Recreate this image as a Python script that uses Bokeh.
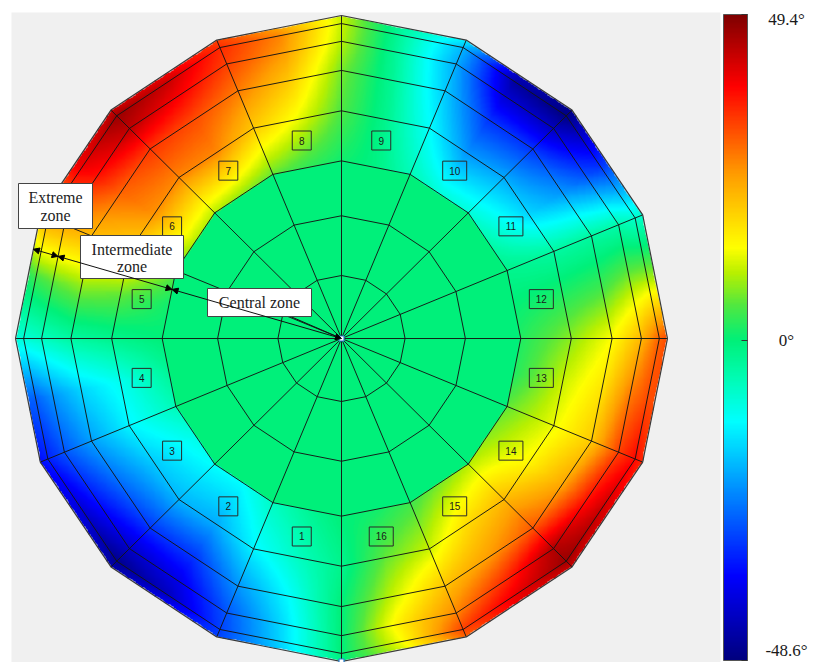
import numpy as np
from bokeh.plotting import figure
from bokeh.models import (LinearColorMapper, ColorBar, FixedTicker, BoxAnnotation,
                          Arrow, NormalHead)
from bokeh.core.properties import value
from bokeh.embed import file_html
from bokeh.resources import INLINE

# ---------------------------------------------------------------- data
# Polar mesh: 16 sectors, ring polygons given as a fraction of the outer radius
ring_radii = [0.195, 0.38, 0.55, 0.705, 0.83, 0.92, 0.975, 1.0]
sector_labels = ["1", "2", "3", "4", "5", "6", "7", "8",
                 "9", "10", "11", "12", "13", "14", "15", "16"]

# Angle of every spoke and sector middle (deg, counter-clockwise from +x)
node_angles = [0, 11.25, 22.5, 33.75, 45, 56.25, 67.5, 78.75,
               90, 101.25, 112.5, 123.75, 135, 146.25, 157.5, 168.75,
               180, 191.25, 202.5, 213.75, 225, 236.25, 247.5, 258.75,
               270, 281.25, 292.5, 303.75, 315, 326.25, 337.5, 348.75]

# Angle (deg) on each ring of the intermediate and extreme zones
ring_r3 = [2, 0, -2, -5, -9, -9, -6, -1, 1, 3, 6, 8, 10, 10, 6, 1,
           0, -3, -6, -10, -12, -12, -7, -3, 0, 1, 4, 7, 10, 8, 6, 2]
ring_r4 = [8, 2, -4, -16, -20, -22, -12, -2, 5, 13, 20, 27, 27, 26, 18, 6,
           -2, -11, -13, -17, -19, -20, -13, -7, -2, 6, 11, 18, 22, 15, 13, 11]
ring_r5 = [14, 4, -4, -22, -31, -31, -17, -3, 7, 20, 28, 32, 34, 30, 22, 8,
           -4, -16, -21, -26, -31, -31, -22, -12, 0, 11, 21, 25, 31, 24, 20, 17]
ring_r6 = [22, 8, -5, -28, -42, -40, -20, -4, 10, 25, 33, 39, 44, 37, 24, 6,
           -7, -22, -28, -34, -41, -38, -28, -15, 0, 16, 27, 35, 45, 37, 33, 28]
ring_r7 = [30, 9, -8, -31, -48, -45, -19, -4, 11, 27, 35, 43, 47, 40, 25, 4,
           -9, -27, -33, -40, -47, -42, -30, -16, 0, 14, 33, 40, 47, 43, 38, 32]
ring_r8 = [32, 9, -8, -30, -47, -42, -14, -4, 11, 24, 33, 40, 43, 40, 22, 2,
           -9, -27, -35, -38, -44, -37, -30, -17, -1, 12, 30, 40, 43, 41, 35, 32]
ring_values = [ring_r3, ring_r4, ring_r5, ring_r6, ring_r7, ring_r8]
central_value = 0.0

scale_low, scale_high = -48.6, 49.4
tick_values = [-48.6, 0, 49.4]
tick_labels = ["-48.6°", "0°", "49.4°"]

# ---------------------------------------------------------------- palette
stops = [(0.00, (0, 0, 127)), (0.13, (0, 0, 255)), (0.25, (0, 128, 255)),
         (0.37, (0, 255, 255)), (0.44, (0, 252, 176)), (0.496, (0, 240, 120)),
         (0.55, (80, 232, 64)), (0.60, (184, 240, 0)), (0.64, (255, 255, 0)),
         (0.75, (255, 160, 0)), (0.89, (255, 0, 0)), (1.00, (128, 0, 0))]
f = np.linspace(0, 1, 256)
sf = [s[0] for s in stops]
chans = [np.interp(f, sf, [s[1][c] for s in stops]) for c in range(3)]
palette = ["#%02x%02x%02x" % (int(round(r)), int(round(g)), int(round(b)))
           for r, g, b in zip(*chans)]
mapper = LinearColorMapper(palette=palette, low=scale_low, high=scale_high,
                           nan_color=(0, 0, 0, 0))

# ---------------------------------------------------------------- figure
CX, CY = 341, 338          # centre of the disc on the page (px)
SX, SY = 326, 323          # px per unit radius
W, H = 817, 662


def px(xp, yp):
    return (xp - CX) / SX, (CY - yp) / SY


p = figure(width=W, height=H, x_range=(-CX / SX, (W - CX) / SX),
           y_range=(-(H - CY) / SY, CY / SY), output_backend="svg",
           toolbar_location=None, x_axis_location=None, y_axis_location=None,
           min_border=0, background_fill_color="white", border_fill_color="white")
p.grid.visible = False
p.outline_line_color = None

x_l, _ = px(11, 0)
x_r, y_t = px(720, 12)
p.add_layout(BoxAnnotation(left=x_l, right=x_r, top=y_t, fill_color="#f0f0f0",
                           fill_alpha=1.0, line_color=None, level="underlay"))

# ---------------------------------------------------------------- field
n_sec = len(sector_labels)
sec_w = 360.0 / n_sec
N = 720
g = np.linspace(-1.0, 1.0, N)
X, Y = np.meshgrid(g, g)
TH = np.degrees(np.arctan2(Y, X)) % 360
mid = (np.floor(TH / sec_w) + 0.5) * sec_w
RHO = np.hypot(X, Y) * np.cos(np.radians(TH - mid)) / np.cos(np.radians(sec_w / 2))

rings = np.array(ring_radii[2:])
fields = np.stack([np.interp(TH, node_angles, v, period=360) for v in ring_values])
idx = np.clip(np.searchsorted(rings, RHO) - 1, 0, len(rings) - 2)
r0, r1 = rings[idx], rings[idx + 1]
t = np.clip((RHO - r0) / (r1 - r0), 0, 1)
v0 = np.take_along_axis(fields, idx[None], 0)[0]
v1 = np.take_along_axis(fields, (idx + 1)[None], 0)[0]
field = v0 + t * (v1 - v0)
field[RHO < rings[0]] = central_value
field[RHO > 1.0] = np.nan

p.image(image=[field], x=-1, y=-1, dw=2, dh=2, color_mapper=mapper)

# ---------------------------------------------------------------- mesh
vert_ang = np.radians(np.arange(n_sec + 1) * sec_w)
ring_xs = [list(rr * np.cos(vert_ang)) for rr in ring_radii]
ring_ys = [list(rr * np.sin(vert_ang)) for rr in ring_radii]
spoke_xs = [[0, np.cos(a)] for a in vert_ang[:-1]]
spoke_ys = [[0, np.sin(a)] for a in vert_ang[:-1]]
p.multi_line(xs=ring_xs[:-1] + spoke_xs, ys=ring_ys[:-1] + spoke_ys,
             line_color="#151515", line_width=1, line_alpha=0.95)
p.line(ring_xs[-1], ring_ys[-1], line_color="#3a3a3a", line_width=1.2)

# ---------------------------------------------------------------- sector numbers
lab_ang = np.radians([258.75 - i * sec_w for i in range(n_sec)])
lab_r = 0.625
lx = list(lab_r * np.cos(lab_ang))
ly = list(lab_r * np.sin(lab_ang))
lw = [19 if len(s) == 1 else 24 for s in sector_labels]
p.rect(x=lx, y=ly, width=lw, height=19, width_units="screen", height_units="screen",
       fill_color=None, line_color="#2a2a2a", line_width=1)
p.text(x=lx, y=ly, text=sector_labels, text_align="center", text_baseline="middle",
       text_font=value("Liberation Sans"), text_font_size="10px", text_color="#1a1a1a")

# ---------------------------------------------------------------- zone dimension line
ann = np.radians(163.7)
k = np.cos(np.radians(sec_w / 2)) / np.cos(ann - np.radians(168.75))
marks = [1.0, ring_radii[5], ring_radii[2], 0.0]
for a, b in zip(marks[:-1], marks[1:]):
    p.add_layout(Arrow(x_start=a * k * np.cos(ann), y_start=a * k * np.sin(ann),
                       x_end=b * k * np.cos(ann), y_end=b * k * np.sin(ann),
                       start=NormalHead(size=6, fill_color="black", line_color="black"),
                       end=NormalHead(size=6, fill_color="black", line_color="black"),
                       line_color="#111111", line_width=1))

# leader from the central-zone box to the centre
bx, by = px(290, 316)
p.line([bx, 0], [by, 0], line_color="#111111", line_width=1)

# zone boxes
boxes = [((55, 205.5), (74, 45), ["Extreme", "zone"], [197, 215]),
         ((131.5, 256.5), (103, 43), ["Intermediate", "zone"], [249, 266]),
         ((259, 302), (104, 28), ["Central zone"], [302])]
for (cxp, cyp), (bw, bh), lines, ylines in boxes:
    x0, y0 = px(cxp, cyp)
    p.rect(x=[x0], y=[y0], width=bw, height=bh, width_units="screen",
           height_units="screen", fill_color="white", line_color="#444444", line_width=1)
    tx = [x0] * len(lines)
    ty = [px(cxp, yy)[1] for yy in ylines]
    p.text(x=tx, y=ty, text=lines, text_align="center", text_baseline="middle",
           text_font=value("Liberation Serif"), text_font_size="16px",
           text_color="#222222")

p.scatter(x=[0, 0], y=[0, -1], marker="square", size=5, fill_color="white",
          line_color="#2a7fd4", line_width=1.2)

# ---------------------------------------------------------------- colour bar
BAR_TOP, BAR_BOT = 14, 660
cbar = ColorBar(color_mapper=mapper, ticker=FixedTicker(ticks=tick_values),
                orientation="vertical", width=24, height=BAR_BOT - BAR_TOP,
                location=(723, H - BAR_BOT), padding=0, margin=0,
                bar_line_color="#555555", bar_line_width=1,
                major_tick_line_color="#333333", major_tick_in=6, major_tick_out=0,
                major_label_text_alpha=0, major_label_text_font_size="1px",
                background_fill_color=None, border_line_color=None)
p.add_layout(cbar)

# colour-bar tick labels, centred to the right of the bar, ends kept inside
lab_px_y = [min(max(BAR_BOT - (tv - scale_low) / (scale_high - scale_low)
                    * (BAR_BOT - BAR_TOP), BAR_TOP + 5), BAR_BOT - 10)
            for tv in tick_values]
p.text(x=[px(786, 0)[0]] * len(tick_values), y=[px(0, yy)[1] for yy in lab_px_y],
       text=tick_labels, text_align="center", text_baseline="middle",
       text_font=value("Liberation Serif"), text_font_size="17px",
       text_color="#1a1a1a")

open("out.html", "w").write(file_html(p, INLINE))
